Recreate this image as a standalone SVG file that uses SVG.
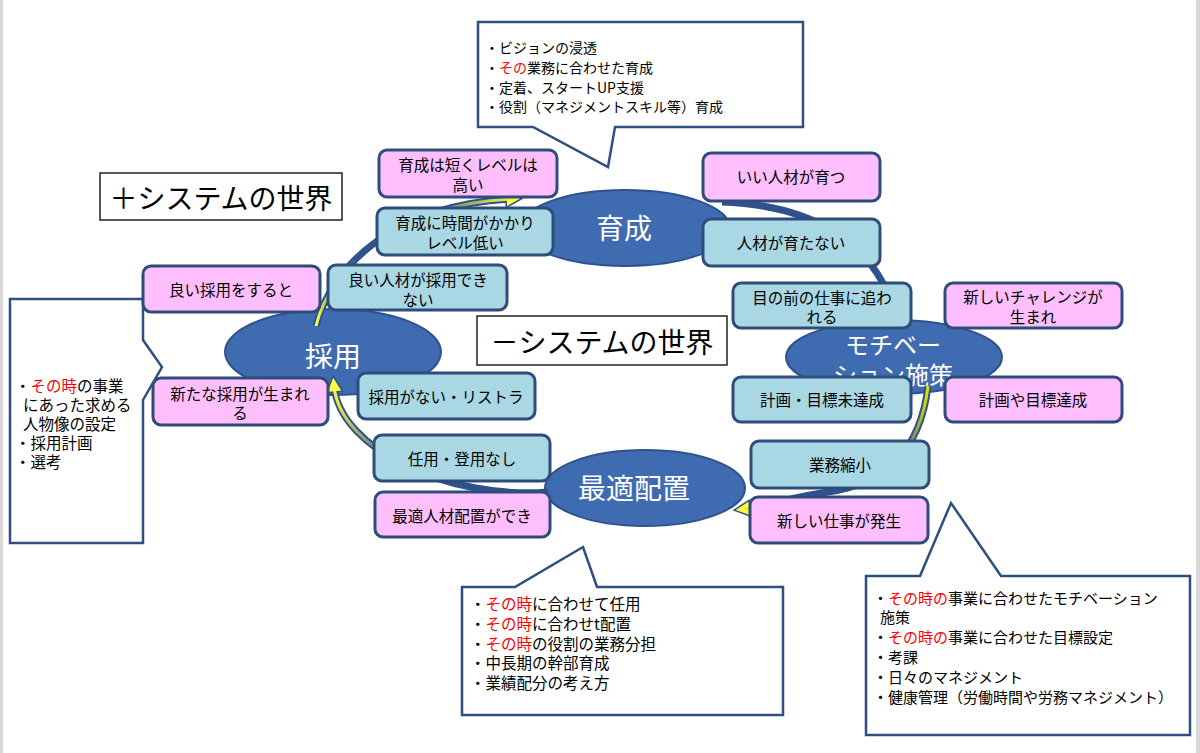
<svg xmlns="http://www.w3.org/2000/svg" width="1200" height="753" viewBox="0 0 1200 753">
<defs>
<style>
.pk{fill:#FFBFFF;stroke:#2E4D7B;stroke-width:3}
.bl{fill:#A9D7E3;stroke:#2E4D7B;stroke-width:3}
.el{fill:#3F6CB1;stroke:#2F528F;stroke-width:2}
.co{fill:#fff;stroke:#2F4F80;stroke-width:2.5}
.wb{fill:#fff;stroke:#222;stroke-width:1.5}
text{font-family:"Noto Sans CJK JP","Noto Sans CJK SC",sans-serif;fill:#000}
.t{font-size:15.5px;text-anchor:middle;dominant-baseline:central}
.ct{font-size:14px;dominant-baseline:central}
.rt{font-size:15px;dominant-baseline:central}
.lt{font-size:15.5px;dominant-baseline:central}
.et{font-size:28px;fill:#fff;text-anchor:middle;dominant-baseline:central}
.big{font-size:28px;text-anchor:middle;dominant-baseline:central}
.red{fill:#FF0000}
.ob{fill:none;stroke:#2F528F;stroke-width:7}
.in{fill:none;stroke-width:3}
</style>
<marker id="ah" markerUnits="userSpaceOnUse" markerWidth="20" markerHeight="20" viewBox="0 0 20 20" refX="8" refY="10" orient="auto">
<path d="M2,2 L18,10 L2,18 Z" fill="#FFFF40" stroke="#2F528F" stroke-width="1.5"/>
</marker>
<linearGradient id="gA" gradientUnits="userSpaceOnUse" x1="316" y1="326" x2="518" y2="199"><stop offset="0" stop-color="#FFFF40"/><stop offset="0.3" stop-color="#2F528F"/><stop offset="0.6" stop-color="#2F528F"/><stop offset="1" stop-color="#FFFF40"/></linearGradient>
<linearGradient id="gC" gradientUnits="userSpaceOnUse" x1="928" y1="386" x2="742" y2="509"><stop offset="0" stop-color="#E6E600"/><stop offset="0.35" stop-color="#2F528F"/><stop offset="0.85" stop-color="#2F528F"/><stop offset="1" stop-color="#FFFF40"/></linearGradient>
<linearGradient id="gD" gradientUnits="userSpaceOnUse" x1="548" y1="492" x2="334" y2="384"><stop offset="0" stop-color="#2F528F"/><stop offset="0.6" stop-color="#2F528F"/><stop offset="1" stop-color="#FFFF40"/></linearGradient>
</defs>
<rect x="0" y="0" width="1200" height="753" fill="#fff"/>
<rect x="0" y="0" width="3" height="753" fill="#D9D9D9"/>
<rect x="1196" y="0" width="4" height="753" fill="#D9D9D9"/>

<g id="callout-top">
<path class="co" d="M478,22 H803 V127 H615 L608,167 L533,127 H478 Z"/>
<text class="ct" x="485" y="47">・ビジョンの浸透</text>
<text class="ct" x="485" y="67">・<tspan class="red">その</tspan>業務に合わせた育成</text>
<text class="ct" x="485" y="87">・定着、スタートUP支援</text>
<text class="ct" x="485" y="106">・役割（マネジメントスキル等）育成</text>
</g>
<g id="callout-left">
<path class="co" d="M10,299 H143 V340 L162,367 L143,400 V543 H10 Z"/>
<text class="lt" x="15" y="385">・<tspan class="red">その時</tspan>の事業</text>
<text class="lt" x="23" y="404">にあった求める</text>
<text class="lt" x="23" y="423">人物像の設定</text>
<text class="lt" x="15" y="442">・採用計画</text>
<text class="lt" x="15" y="461">・選考</text>
</g>
<g id="callout-bottom">
<path class="co" d="M462,587 H515 L583,547 L597,587 H783 V715 H462 Z"/>
<text class="lt" x="470" y="603">・<tspan class="red">その時</tspan>に合わせて任用</text>
<text class="lt" x="470" y="623">・<tspan class="red">その時</tspan>に合わせt配置</text>
<text class="lt" x="470" y="643">・<tspan class="red">その時</tspan>の役割の業務分担</text>
<text class="lt" x="470" y="662">・中長期の幹部育成</text>
<text class="lt" x="470" y="682">・業績配分の考え方</text>
</g>
<g id="callout-right">
<path class="co" d="M866,576 H920 L951,503 L1001,576 H1190 V735 H866 Z"/>
<text class="rt" x="873" y="597">・<tspan class="red">その時の</tspan>事業に合わせたモチベーション</text>
<text class="rt" x="880" y="616">施策</text>
<text class="rt" x="873" y="636">・<tspan class="red">その時の</tspan>事業に合わせた目標設定</text>
<text class="rt" x="873" y="656">・考課</text>
<text class="rt" x="873" y="676">・日々のマネジメント</text>
<text class="rt" x="873" y="696">・健康管理（労働時間や労務マネジメント）</text>
</g>

<g id="label-plus">
<rect class="wb" x="100" y="173" width="242" height="47"/>
<text class="big" x="221" y="197">＋システムの世界</text>
</g>
<g id="label-minus">
<rect class="wb" x="477" y="316" width="250" height="49"/>
<text class="big" x="602" y="341">－システムの世界</text>
</g>

<g id="node-ikusei">
<ellipse class="el" cx="625" cy="228" rx="105" ry="38"/>
<text class="et" x="624" y="227">育成</text>
</g>
<g id="node-saiyo">
<ellipse class="el" cx="333" cy="352" rx="108" ry="43"/>
<text class="et" x="333" y="355">採用</text>
</g>
<g id="node-motivation">
<ellipse class="el" cx="894" cy="357" rx="108" ry="37"/>
<text class="et" x="893" y="343" style="font-size:24px">モチベー</text>
<text class="et" x="893" y="373" style="font-size:24px">ション施策</text>
</g>
<g id="node-haichi">
<ellipse class="el" cx="645" cy="488" rx="100" ry="38"/>
<text class="et" x="634" y="487">最適配置</text>
</g>

<g id="connectors">
<path class="ob" d="M316,326 C330,270 390,205 512,199" marker-end="url(#ah)"/>
<path class="in" stroke="url(#gA)" d="M316,326 C330,270 390,205 512,199"/>
<path class="ob" d="M722,202 C810,205 875,240 896,316" marker-end="url(#ah)"/>
<path class="ob" d="M928,386 C920,455 880,485 828,492 C790,497 770,506 744,509" marker-end="url(#ah)"/>
<path class="in" stroke="url(#gC)" d="M928,386 C920,455 880,485 828,492 C790,497 770,506 744,509"/>
<path class="ob" d="M548,492 C450,500 340,450 334,386" marker-end="url(#ah)"/>
<path class="in" stroke="url(#gD)" d="M548,492 C450,500 340,450 334,386"/>
</g>

<g id="box-p1"><rect class="pk" x="379" y="150" width="178" height="47" rx="8"/><text class="t" x="468" y="164">育成は短くレベルは</text><text class="t" x="468" y="184">高い</text></g>
<g id="box-b1"><rect class="bl" x="377" y="208" width="176" height="47" rx="8"/><text class="t" x="465" y="222">育成に時間がかかり</text><text class="t" x="465" y="242">レベル低い</text></g>
<g id="box-p2"><rect class="pk" x="703" y="153" width="177" height="48" rx="8"/><text class="t" x="791" y="176">いい人材が育つ</text></g>
<g id="box-b2"><rect class="bl" x="703" y="219" width="177" height="47" rx="8"/><text class="t" x="791" y="242">人材が育たない</text></g>
<g id="box-b3"><rect class="bl" x="733" y="283" width="178" height="45" rx="8"/><text class="t" x="822" y="297">目の前の仕事に追わ</text><text class="t" x="822" y="316">れる</text></g>
<g id="box-p3"><rect class="pk" x="945" y="283" width="177" height="45" rx="8"/><text class="t" x="1033" y="296">新しいチャレンジが</text><text class="t" x="1033" y="316">生まれ</text></g>
<g id="box-b4"><rect class="bl" x="733" y="377" width="178" height="45" rx="8"/><text class="t" x="822" y="399">計画・目標未達成</text></g>
<g id="box-p4"><rect class="pk" x="945" y="377" width="177" height="45" rx="8"/><text class="t" x="1033" y="399">計画や目標達成</text></g>
<g id="box-b5"><rect class="bl" x="751" y="441" width="178" height="47" rx="8"/><text class="t" x="840" y="464">業務縮小</text></g>
<g id="box-p5"><rect class="pk" x="750" y="497" width="178" height="46" rx="8"/><text class="t" x="839" y="520">新しい仕事が発生</text></g>
<g id="box-b6"><rect class="bl" x="374" y="435" width="176" height="46" rx="8"/><text class="t" x="462" y="458">任用・登用なし</text></g>
<g id="box-p6"><rect class="pk" x="375" y="492" width="175" height="45" rx="8"/><text class="t" x="462" y="515">最適人材配置ができ</text></g>
<g id="box-b7"><rect class="bl" x="358" y="373" width="177" height="46" rx="8"/><text class="t" x="446" y="396">採用がない・リストラ</text></g>
<g id="box-p7"><rect class="pk" x="153" y="378" width="175" height="47" rx="8"/><text class="t" x="240" y="393">新たな採用が生まれ</text><text class="t" x="240" y="412">る</text></g>
<g id="box-p8"><rect class="pk" x="143" y="266" width="177" height="46" rx="8"/><text class="t" x="231" y="289">良い採用をすると</text></g>
<g id="box-b8"><rect class="bl" x="328" y="265" width="179" height="45" rx="8"/><text class="t" x="418" y="279">良い人材が採用でき</text><text class="t" x="418" y="299">ない</text></g>
</svg>
